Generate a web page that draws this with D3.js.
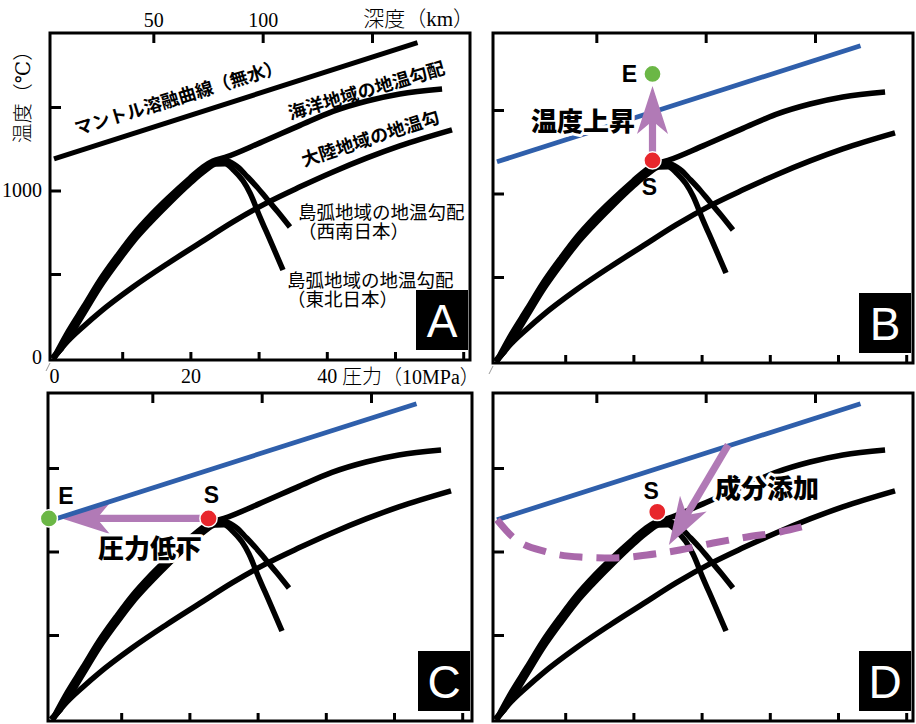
<!DOCTYPE html>
<html>
<head>
<meta charset="utf-8">
<script src="https://cdn.jsdelivr.net/npm/d3@7"></script>
<style>
  body { margin: 0; background: #fff; }
  svg { display: block; }
</style>
</head>
<body>
<svg id="chart" width="916" height="724"></svg>
<script>
// Pressure in units of 10 MPa, temperature in °C, depth in km.
const dryMantleSolidus = [[0, 1190], [53.3, 1885]];
const oceanicGeotherm = [[0, 0], [2.05, 153], [4.4, 308], [6.74, 464], [9.24, 608], [11.58, 734],
  [14.08, 848], [16.57, 949], [19.94, 1075], [21.85, 1141], [23.31, 1176], [25.07, 1198], [30.2, 1285],
  [36.07, 1390], [40.9, 1474], [45.9, 1536], [50.7, 1578], [56.9, 1608]];
const continentalGeotherm = [[0, 0], [2.05, 99], [4.4, 189], [6.74, 272], [11.58, 422], [16.57, 560],
  [21.4, 686], [26.25, 812], [31.2, 926], [36.07, 1022], [40.9, 1111], [45.9, 1195], [50.7, 1267],
  [58.36, 1363]];
const arcGeothermSW = [[0, 0], [2.05, 129], [4.4, 284], [6.74, 440], [9.24, 584], [11.58, 710],
  [14.08, 824], [16.57, 928], [19.94, 1060], [22.14, 1135], [24.05, 1172], [25.51, 1174], [26.98, 1140],
  [28.3, 1085], [29.76, 1021], [31.23, 949], [32.84, 871], [34.6, 781]];
const arcGeothermNE = [[0, 0], [2.05, 111], [4.4, 266], [6.74, 422], [9.24, 566], [11.58, 692],
  [14.08, 806], [16.57, 910], [19.94, 1042], [22.14, 1118], [23.75, 1158], [25.07, 1160], [26.39, 1120],
  [27.71, 1058], [28.74, 985], [30.2, 841], [31.67, 704], [33.58, 524]];
const loweredSolidus = [[0, 1190], [2.3, 1087], [7.3, 997], [12.2, 967], [17, 961], [22, 979],
  [26.8, 1009], [31.7, 1051], [36.7, 1087], [41.5, 1117], [45.9, 1160]];

const pressureTicks = [10, 20, 30, 40, 50, 60];
const pressureTickLabels = [0, 20, 40];
const temperatureTicks = [500, 1000, 1500];
const temperatureTickLabels = [0, 1000];
const depthTicks = [50, 100, 150];
const depthTickLabels = [50, 100];

// Start (S) and end (E) states for each process
const startState = [22.8, 1198];
const heatedState = [22.8, 1716];
const decompressedState = [-0.6, 1198];
const startStateD = [23.5, 1237];
const heatingArrow = [[22.8, 1198], [22.8, 1644]];
const decompressionArrow = [[22.8, 1198], [1.3, 1198]];
const additionArrow = [[33.9, 1638], [25.2, 1039]];

const panels = [
  { letter: "A", left: 50, top: 33, right: 470, bottom: 360, x0: 54, y0: 357.5 },
  { letter: "B", left: 493, top: 33, right: 913, bottom: 363, x0: 497, y0: 360.5 },
  { letter: "C", left: 48, top: 393, right: 472, bottom: 721, x0: 53, y0: 718.5 },
  { letter: "D", left: 493, top: 393, right: 913, bottom: 721, x0: 497, y0: 718.5 }
];

const BLUE = "#2f5fab", PURPLE = "#b17ab6", DASH = "#a968aa", RED = "#e8262c", GREEN = "#6bb746";
const SERIF = "'Liberation Serif','DejaVu Serif','Noto Sans CJK JP',serif";
const GOTHIC = "'Noto Sans CJK JP','Noto Sans',sans-serif";
const BOLDSANS = "'Liberation Sans','Noto Sans CJK JP',sans-serif";

const svg = d3.select("#chart");

function setupPanel(p) {
  const g = svg.append("g");
  const x = d3.scaleLinear().domain([0, 60]).range([p.x0, p.x0 + 409.2]);
  const y = d3.scaleLinear().domain([0, 1500]).range([p.y0, p.y0 - 250.5]);
  const xd = d3.scaleLinear().domain([0, 150]).range([p.x0 - 10, p.x0 + 318]);

  const styleTicks = sel => {
    sel.select(".domain").remove();
    sel.selectAll("line").attr("stroke", "#000").attr("stroke-width", 3);
  };
  g.append("g").attr("transform", `translate(0,${p.top})`)
    .call(d3.axisBottom(xd).tickValues(depthTicks).tickSize(10).tickFormat(""))
    .call(styleTicks);
  g.append("g").attr("transform", `translate(${p.left},0)`)
    .call(d3.axisRight(y).tickValues(temperatureTicks).tickSize(11).tickFormat(""))
    .call(styleTicks);
  g.append("g").attr("transform", `translate(0,${p.bottom})`)
    .call(d3.axisTop(x).tickValues(pressureTicks).tickSize(8).tickFormat(""))
    .call(styleTicks);

  g.append("rect")
    .attr("x", p.left).attr("y", p.top)
    .attr("width", p.right - p.left).attr("height", p.bottom - p.top)
    .attr("fill", "none").attr("stroke", "#000").attr("stroke-width", 3);

  const line = d3.line().x(d => x(d[0])).y(d => y(d[1])).curve(d3.curveMonotoneX);
  const curves = g.append("g").attr("fill", "none").attr("stroke", "#000")
    .attr("stroke-width", 5.5).attr("stroke-linejoin", "round");
  [continentalGeotherm, arcGeothermNE, arcGeothermSW, oceanicGeotherm].forEach(c =>
    curves.append("path").attr("d", line(c)));
  curves.append("path").attr("d", "M" + [x(0) - 2, y(0) + 1] + "L" + [x(1.2), y(60)])
    .attr("stroke-width", 6);

  return { g, x, y, line };
}

function solidus(ctx, color, width) {
  ctx.g.append("path")
    .attr("d", d3.line().x(d => ctx.x(d[0])).y(d => ctx.y(d[1]))(dryMantleSolidus))
    .attr("fill", "none").attr("stroke", color).attr("stroke-width", width);
}

function arrow(ctx, pts) {
  const [sx, sy] = [ctx.x(pts[0][0]), ctx.y(pts[0][1])];
  const [tx, ty] = [ctx.x(pts[1][0]), ctx.y(pts[1][1])];
  const len = Math.hypot(tx - sx, ty - sy);
  const ux = (tx - sx) / len, uy = (ty - sy) / len;
  const nx = -uy, ny = ux;
  const L = 48, N = 35, hw = 15.5, sw = 3.6;
  const bx = tx - ux * L, by = ty - uy * L;
  const kx = tx - ux * N, ky = ty - uy * N;
  const ex = tx - ux * (N - 3), ey = ty - uy * (N - 3);
  const a = ctx.g.append("g").attr("fill", PURPLE);
  a.append("path").attr("d",
    `M${sx + nx * sw},${sy + ny * sw}L${ex + nx * sw},${ey + ny * sw}L${ex - nx * sw},${ey - ny * sw}L${sx - nx * sw},${sy - ny * sw}Z`);
  a.append("path").attr("d",
    `M${tx},${ty}L${bx + nx * hw},${by + ny * hw}L${kx},${ky}L${bx - nx * hw},${by - ny * hw}Z`);
}

function dot(ctx, pt, color) {
  ctx.g.append("circle").attr("cx", ctx.x(pt[0])).attr("cy", ctx.y(pt[1])).attr("r", 8.6)
    .attr("fill", color).attr("stroke", "#fff").attr("stroke-width", 1.5);
}

function label(ctx, text, px, py, size, family, weight, halo) {
  const t = ctx.g.append("text").attr("x", px).attr("y", py).text(text)
    .attr("font-family", family).attr("font-size", size).attr("font-weight", weight)
    .attr("text-anchor", "middle").attr("dominant-baseline", "central").attr("fill", "#000");
  if (halo) t.attr("stroke", "#fff").attr("stroke-width", halo).attr("stroke-linejoin", "round")
    .attr("paint-order", "stroke");
  return t;
}

function letterBox(ctx, p) {
  const bx = p.right - 54, by = p.bottom - 70;
  ctx.g.append("rect").attr("x", bx).attr("y", by).attr("width", 52).attr("height", 60).attr("fill", "#000");
  ctx.g.append("text").attr("x", bx + 26).attr("y", by + 47).text(p.letter)
    .attr("font-family", "'Liberation Sans',Arial,sans-serif").attr("font-size", 46)
    .attr("text-anchor", "middle").attr("fill", "#fff");
}

// ---------- Panel A: geotherms and dry mantle solidus ----------
const pA = panels[0];
const A = setupPanel(pA);
solidus(A, "#000", 5);

// tick labels
const serifAxis = sel => {
  sel.select(".domain").remove();
  sel.selectAll("line").remove();
  sel.selectAll("text").attr("font-family", SERIF).attr("font-size", 20).attr("fill", "#000");
};
A.g.append("g").attr("transform", `translate(${pA.left},0)`)
  .call(d3.axisLeft(A.y).tickValues(temperatureTickLabels).tickSize(0).tickPadding(8).tickFormat(d3.format("d")))
  .call(serifAxis);
A.g.append("g").attr("transform", `translate(0,${pA.bottom})`)
  .call(d3.axisBottom(A.x).tickValues(pressureTickLabels).tickSize(0).tickPadding(9).tickFormat(d3.format("d")))
  .call(serifAxis);
A.g.append("g").attr("transform", `translate(0,${pA.top})`)
  .call(d3.axisTop(d3.scaleLinear().domain([0, 150]).range([pA.x0 - 10, pA.x0 + 318]))
    .tickValues(depthTickLabels).tickSize(0).tickPadding(6).tickFormat(d3.format("d")))
  .call(serifAxis);

A.g.append("text").attr("x", 474).attr("y", 26).attr("text-anchor", "end")
  .attr("font-family", SERIF).attr("font-size", 21).attr("font-weight", 300).text("深度（km）");
A.g.append("text").attr("x", 342).attr("y", 384)
  .attr("font-family", SERIF).attr("font-size", 20).attr("font-weight", 300).text("圧力（10MPa）");
A.g.append("text").attr("transform", "translate(23,92) rotate(-90)")
  .attr("text-anchor", "middle").attr("dominant-baseline", "central")
  .attr("font-family", SERIF).attr("font-size", 20).attr("font-weight", 300).text("温度（℃）");

[["マントル溶融曲線（無水）", 178, 96, -17],
 ["海洋地域の地温勾配", 366, 89, -16.5],
 ["大陸地域の地温勾", 370, 137, -18]].forEach(([t, cx, cy, ang]) => {
  A.g.append("text").attr("transform", `translate(${cx},${cy}) rotate(${ang})`)
    .attr("text-anchor", "middle").attr("dominant-baseline", "central")
    .attr("font-family", GOTHIC).attr("font-size", 18).attr("font-weight", 700).text(t);
});
[[["島弧地域の地温勾配", "（西南日本）"], 298, 211],
 [["島弧地域の地温勾配", "（東北日本）"], 287, 279]].forEach(([lines, lx, cy]) => {
  const t = A.g.append("text").attr("y", cy).attr("dominant-baseline", "central")
    .attr("font-family", GOTHIC).attr("font-size", 18.5).attr("font-weight", 400);
  lines.forEach((s, i) => t.append("tspan").attr("x", lx).attr("dy", i ? 18.5 : 0).text(s));
});
letterBox(A, pA);

// small slash marks below the origin
[panels[0], panels[1]].forEach(p => {
  svg.append("line").attr("x1", p.left - 4).attr("y1", p.bottom + 11).attr("x2", p.left).attr("y2", p.bottom + 3)
    .attr("stroke", "#999").attr("stroke-width", 1);
});

// ---------- Panel B: heating ----------
const pB = panels[1];
const B = setupPanel(pB);
solidus(B, BLUE, 4.8);
arrow(B, heatingArrow);
label(B, "温度上昇", 583, 119, 26, GOTHIC, 900, 6);
dot(B, startState, RED);
dot(B, heatedState, GREEN);
label(B, "E", B.x(heatedState[0]) - 23, B.y(heatedState[1]), 23, BOLDSANS, 700);
label(B, "S", B.x(startState[0]) - 3, B.y(startState[1]) + 27, 23, BOLDSANS, 700);
letterBox(B, pB);

// ---------- Panel C: decompression ----------
const pC = panels[2];
const C = setupPanel(pC);
arrow(C, decompressionArrow);
solidus(C, BLUE, 4.8);
label(C, "圧力低下", 150, 546, 26, GOTHIC, 900, 6);
dot(C, startState, RED);
dot(C, decompressedState, GREEN);
label(C, "E", C.x(decompressedState[0]) + 17, C.y(decompressedState[1]) - 22, 23, BOLDSANS, 700);
label(C, "S", C.x(startState[0]) + 3, C.y(startState[1]) - 23, 23, BOLDSANS, 700);
letterBox(C, pC);

// ---------- Panel D: addition of volatiles ----------
const pD = panels[3];
const D = setupPanel(pD);
solidus(D, BLUE, 4.8);
D.g.append("path").attr("d", D.line(loweredSolidus))
  .attr("fill", "none").attr("stroke", DASH).attr("stroke-width", 7)
  .attr("stroke-dasharray", "23 14");
label(D, "成分添加", 767, 486, 26, GOTHIC, 900, 6);
arrow(D, additionArrow);
dot(D, startStateD, RED);
label(D, "S", D.x(startStateD[0]) - 6, D.y(startStateD[1]) - 21, 23, BOLDSANS, 700);
letterBox(D, pD);
</script>
</body>
</html>
